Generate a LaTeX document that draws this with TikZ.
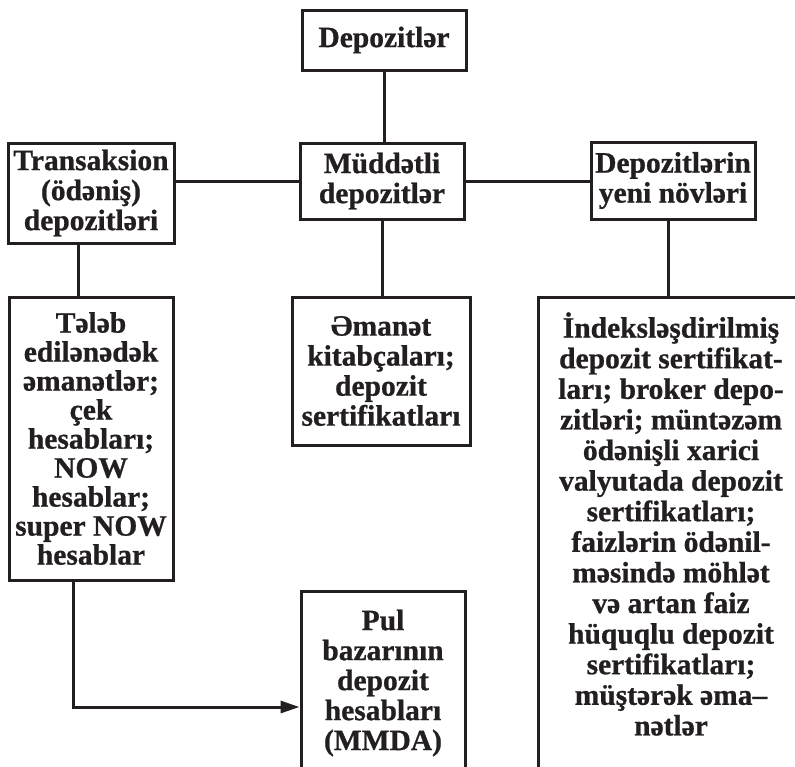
\documentclass[tikz,border=0pt]{standalone}
\usepackage{fontspec}
\setmainfont{Liberation Serif}[Ligatures=NoCommon, BoldFeatures={FakeBold=0.8}]
\usetikzlibrary{arrows.meta,calc}
\definecolor{ink}{HTML}{231F20}
\begin{document}
\begin{tikzpicture}[x=1pt,y=-1pt,
  box/.style={draw=ink, line width=3pt, rectangle, inner sep=0pt, align=center,
    font=\fontsize{29.5}{30}\selectfont\bfseries, text=ink},
  txt/.style={align=center, font=\fontsize{29.5}{30}\selectfont\bfseries, text=ink, inner sep=0pt},
  link/.style={draw=ink, line width=3pt}]
\useasboundingbox (0,0) rectangle (795,766);
\clip (0,0) rectangle (795,766);

\node[box, minimum width=164pt, minimum height=60pt] (dep) at (384,40) {Depozitlər};
\node[box, minimum width=164pt, minimum height=76pt] (mud) at (382,181) {Müddətli\\depozitlər};
\node[box, minimum width=166pt, minimum height=100pt] (trans) at (91,193) {Transaksion\\(ödəniş)\\depozitləri};
\node[box, minimum width=164pt, minimum height=77pt] (yeni) at (673,180.5) {Depozitlərin\\yeni növləri};
\node[box, minimum width=164pt, minimum height=283pt, font=\fontsize{29.5}{29}\selectfont\bfseries] (teleb) at (91,438.5)
  {Tələb\\edilənədək\\əmanətlər;\\çek\\hesabları;\\NOW\\hesablar;\\super NOW\\hesablar};
\node[box, minimum width=178pt, minimum height=148pt] (eman) at (381,371)
  {Əmanət\\kitabçaları;\\depozit\\sertifikatları};
\node[box, minimum width=164pt, minimum height=209pt] (pul) at (383,695.5) {};
\node[txt] (pultxt) at (383,683) {Pul\\bazarının\\depozit\\hesabları\\(MMDA)};
\node[box, minimum width=266pt, minimum height=503pt] (nov) at (671,548.5) {};
\node[txt, font=\fontsize{29.5}{30.6}\selectfont\bfseries] (novtxt) at (671,524)
  {İndeksləşdirilmiş\\depozit sertifikat-\\ları; broker depo-\\zitləri; müntəzəm\\ödənişli xarici\\valyutada depozit\\sertifikatları;\\faizlərin ödənil-\\məsində möhlət\\və artan faiz\\hüquqlu depozit\\sertifikatları;\\müştərək əma--\\nətlər};

\draw[link] (dep.south) -- (dep.south |- mud.north);
\draw[link] (trans.east |- mud.west) -- (mud.west);
\draw[link] (mud.east) -- (mud.east -| yeni.west);
\coordinate (t1) at ($(trans.south)+(-13,0)$);
\draw[link] (t1) -- (t1 |- teleb.north);
\draw[link] (mud.south) -- (mud.south |- eman.north);
\coordinate (y1) at ($(yeni.south)+(-5,0)$);
\draw[link] (y1) -- (y1 |- nov.north);
\coordinate (t2) at ($(teleb.south)+(-18,0)$);
\coordinate (p1) at ($(pul.west)+(0,11.5)$);
\draw[link, -{Triangle[length=19pt,width=12pt]}] (t2) |- (p1);
\end{tikzpicture}
\end{document}
